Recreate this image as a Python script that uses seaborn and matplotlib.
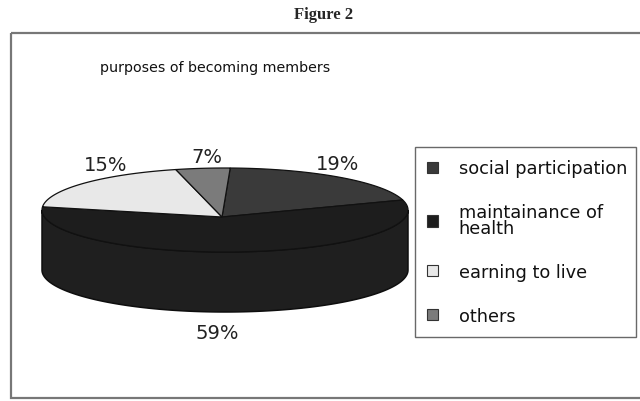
import numpy as np
import matplotlib
matplotlib.use("Agg")
import matplotlib.pyplot as plt
import seaborn as sns
from matplotlib.patches import Polygon, Rectangle, Patch

# ---- data ----
categories = ["social participation", "maintainance of\nhealth", "earning to live", "others"]
values = [19, 59, 15, 7]
pct_labels = ["19%", "59%", "15%", "7%"]
title = "purposes of becoming members"
figure_title = "Figure 2"

# ---- style ----
colors = ["#3a3a3a", "#1d1d1d", "#e8e8e8", "#7b7b7b"]
side_color = "#1f1f1f"
sns.set_style("white")
plt.rcParams["font.family"] = ["DejaVu Sans"]

W, H = 640, 402
fig = plt.figure(figsize=(W / 100, H / 100), dpi=100)
ax = fig.add_axes([0, 0, 1, 1])
ax.set_xlim(0, W)
ax.set_ylim(H, 0)
ax.axis("off")

# outer chart frame
ax.add_patch(Rectangle((11, 34), 700, 365, fill=False, edgecolor="#777777", lw=1.6))

fig.text(324 / W, 1 - 15 / H, figure_title, ha="center", va="center",
         fontsize=12, fontweight="bold", family=["Liberation Serif", "DejaVu Serif"])
ax.text(100, 68, title, ha="left", va="center", fontsize=10.3, color="#111111")

# ---- 3D pie geometry (Excel-like perspective) ----
cx, cy, a, b, depth = 225, 211, 183, 42, 60
apex = (cx - 3, cy + 7)
rot = -2.6  # first slice angle offset


def warp(phi):
    """angle distortion of the perspective view (degrees)"""
    u = np.radians(phi - 90)
    return phi + 18.5 * np.sin(u) - 19.9 * np.sin(2 * u)


def arc(t1, t2, n=200, dy=0.0):
    t = np.radians(np.linspace(t1, t2, n))
    return np.column_stack([cx + a * np.cos(t), cy - b * np.sin(t) + dy])


fr = np.array(values, dtype=float) / sum(values)
phi_start = 90 + rot - 360 * np.concatenate([[0], np.cumsum(fr)[:-1]])
phi_end = phi_start - 360 * fr
starts = warp(phi_start)
ends = warp(phi_end)

# side walls (front half only)
for s, e in zip(starts, ends):
    for k in (-1, 0, 1):
        lo, hi = max(e, -180 + 360 * k), min(s, 0 + 360 * k)
        if hi > lo:
            top = arc(lo, hi)
            bot = arc(hi, lo, dy=depth)
            ax.add_patch(Polygon(np.vstack([top, bot]), closed=True,
                                 facecolor=side_color, edgecolor="#0e0e0e", lw=1.1))

# top wedges
for s, e, c in zip(starts, ends, colors):
    pts = np.vstack([apex, arc(s, e), apex])
    ax.add_patch(Polygon(pts, closed=True, facecolor=c, edgecolor="#111111", lw=0.9))

# percentage labels
label_nudge = [(-16, 3), (-25, 0), (39, -6), (7, 9)]
for s, e, lab, (dx, dy) in zip(starts, ends, pct_labels, label_nudge):
    m = np.radians((s + e) / 2)
    x = cx + a * 1.12 * np.cos(m)
    y = cy - b * 1.5 * np.sin(m) + (depth if np.sin(m) < 0 else 0)
    ax.text(x + dx, y + dy, lab, ha="center", va="center", fontsize=14, color="#222222")

# legend
handles = [Patch(facecolor=c, edgecolor="#333333", lw=0.8) for c in colors]
leg = ax.legend(handles, categories, loc="upper left", bbox_to_anchor=(415, 148, 221, 0),
                bbox_transform=ax.transData, mode="expand", frameon=True, fancybox=False,
                fontsize=12.8, handlelength=0.6, handleheight=0.6,
                handletextpad=1.15, labelspacing=1.45, borderpad=0.7, borderaxespad=0)
for t in leg.get_texts():
    t.set_linespacing(0.85)
    t.set_color("#111111")
leg.get_frame().set_edgecolor("#444444")
leg.get_frame().set_linewidth(1.0)

fig.savefig("out.png", dpi=100, facecolor="white")
